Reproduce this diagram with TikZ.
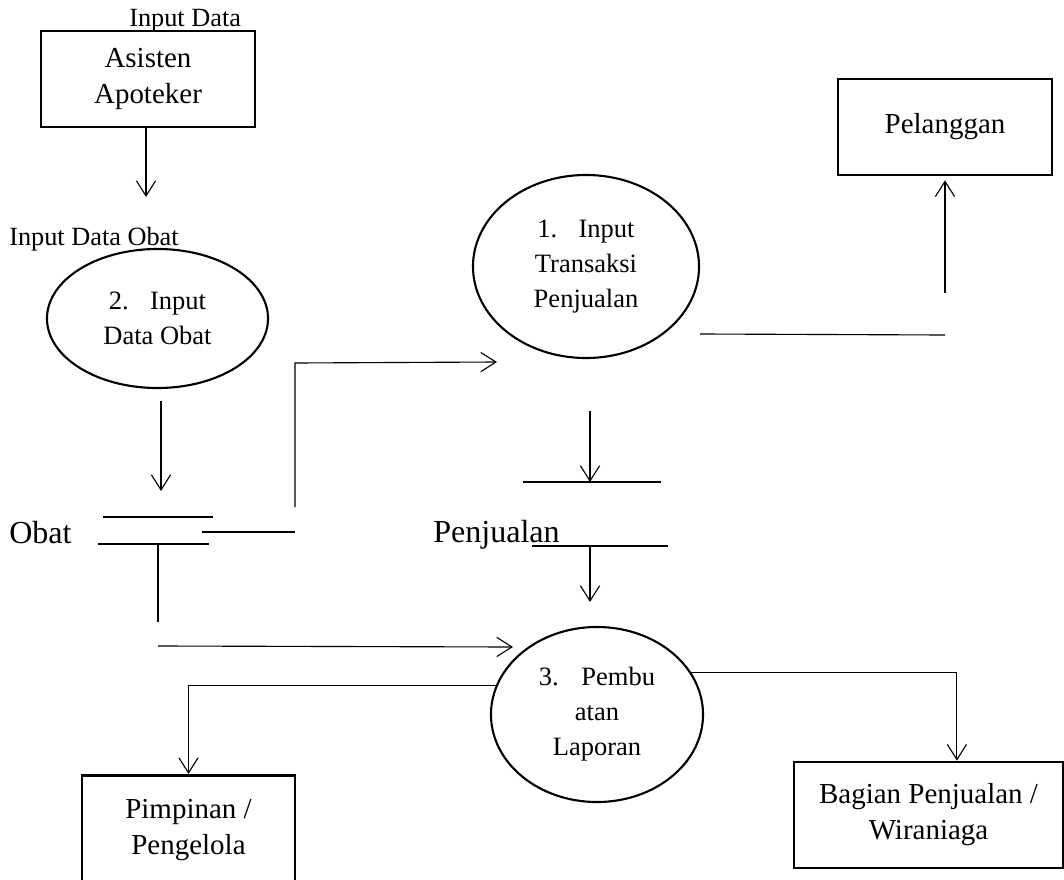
\documentclass[tikz,border=0pt]{standalone}
\usepackage{fontspec}
\setmainfont{Liberation Serif}
\usetikzlibrary{arrows.meta,positioning,shapes.geometric}
\tikzset{
  entity/.style={draw=black, rectangle, line width=1.9pt, align=center, inner sep=0pt, font=\fontsize{20.6}{25.6}\selectfont},
  process/.style={draw=black, ellipse, line width=1.5pt, align=center, inner sep=0pt, font=\fontsize{18.85}{24.9}\selectfont},
  lbl/.style={inner sep=0pt, anchor=base west, font=\fontsize{18.7}{22}\selectfont},
  storelbl/.style={inner sep=0pt, anchor=base west, font=\fontsize{22.8}{27}\selectfont},
  flow/.style={-{Straight Barb[length=3.8mm, width=4.8mm]}, line width=0.8pt},
  link/.style={line width=0.8pt}
}
\begin{document}
\begin{tikzpicture}[x=0.025cm, y=-0.025cm]
  \useasboundingbox (0,0) rectangle (1064,880);
  \clip (0,0) rectangle (1064,880);
  \node[entity, minimum width=5.35cm, minimum height=2.4cm] (asisten) at (148,79) {Asisten\\Apoteker};
  \node[entity, minimum width=5.35cm, minimum height=2.4cm] (pelanggan) at (945,127) {Pelanggan};
  \node[entity, minimum width=5.33cm, minimum height=2.75cm, anchor=north] (pimpinan) at (188.5,774) {Pimpinan /\\Pengelola};
  \node[entity, minimum width=6.725cm, minimum height=2.65cm] (bagian) at (928.5,815) {Bagian Penjualan /\\Wiraniaga};
  \node[process, minimum width=5.525cm, minimum height=3.475cm] (proc2) at (157.5,318.5) {2.\hspace{0.8em}Input\\Data Obat};
  \node[process, minimum width=5.65cm, minimum height=4.575cm] (proc1) at (586,266.5) {1.\hspace{0.8em}Input\\Transaksi\\Penjualan};
  \node[process, minimum width=5.3cm, minimum height=4.375cm] (proc3) at (597,714.5) {3.\hspace{0.85em}Pembu\\atan\\Laporan};
  \node[lbl] (lblinput) at (129,27) {Input Data};
  \node[lbl] (lblobat) at (9,245) {Input Data Obat};
  \node[storelbl] (obat) at (9,543) {Obat};
  \node[storelbl] (penjualan) at (433,542) {Penjualan};

  \coordinate (asistenout) at (146,197);
  \coordinate (obatin) at (161,491);
  \coordinate (transin) at (497,362);
  \coordinate (laporanin) at (513,647);
  \coordinate (jualin) at (590,482);
  \coordinate (laporanin2) at (590,602);

  \draw[flow] (asisten.south -| asistenout) -- (asistenout);
  \draw[flow] ([yshift=-0.3cm]proc2.south -| obatin) -- (obatin);
  \draw[link] (103,517) -- (213,517);
  \draw[link] (98,544) -- (209,544);
  \draw[link] (202,532) -- (295,532);
  \draw[flow] (295,507) -- (295,363) -- (transin);
  \draw[link] (158,544) -- (158,622);
  \draw[flow] (158,646) -- (laporanin);
  \draw[flow] ([yshift=-1.3cm]proc1.south -| jualin) -- (jualin);
  \draw[link] (523,482) -- (661,482);
  \draw[link] (532,546) -- (668,546);
  \draw[flow] (590,546) -- (laporanin2);
  \draw[link] (700,334) -- (945,335);
  \draw[flow] (945,293) -- ([yshift=-0.1cm]pelanggan.south);
  \draw[flow] (proc3.164) -| (pimpinan.north);
  \draw[flow] (proc3.24) -| ([xshift=0.71cm]bagian.north);
\end{tikzpicture}
\end{document}
